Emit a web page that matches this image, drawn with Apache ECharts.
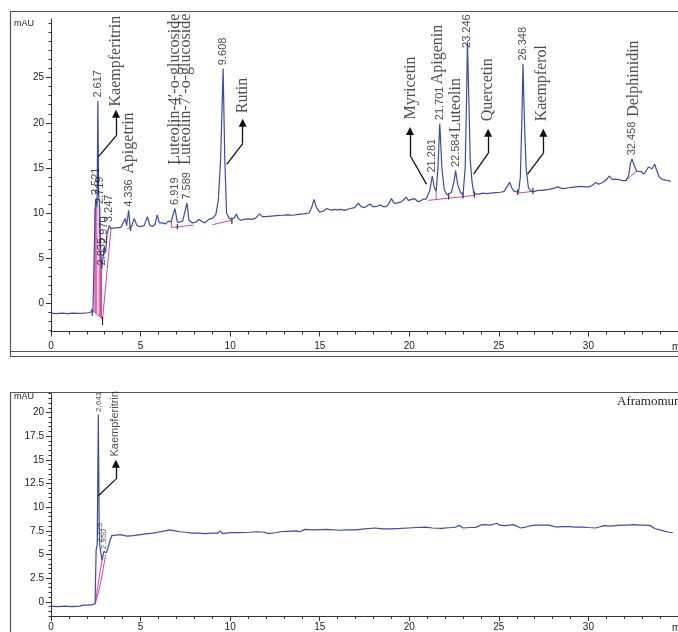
<!DOCTYPE html>
<html><head><meta charset="utf-8">
<script src="https://cdn.jsdelivr.net/npm/echarts@6/dist/echarts.min.js"></script>
<style>html,body{margin:0;padding:0;background:#fff}#c{width:678px;height:632px}</style>
</head><body><div id="c"></div>
<script>
// ---------- DATA ----------
const xMajor = [0, 5, 10, 15, 20, 25, 30];
const xMinor = [0,1,2,3,4,5,6,7,8,9,10,11,12,13,14,15,16,17,18,19,20,21,22,23,24,25,26,27,28,29,30,31,32,33,34,35];
const topYMajor = [0, 5, 10, 15, 20, 25];
const topYMinor = [-3,-2,-1,0,1,2,3,4,5,6,7,8,9,10,11,12,13,14,15,16,17,18,19,20,21,22,23,24,25,26,27,28,29,30,31];
const botYMajor = [0, 2.5, 5, 7.5, 10, 12.5, 15, 17.5, 20];
const botYMinor = [-1.5,-1,-0.5,0,0.5,1,1.5,2,2.5,3,3.5,4,4.5,5,5.5,6,6.5,7,7.5,8,8.5,9,9.5,10,10.5,11,11.5,12,12.5,13,13.5,14,14.5,15,15.5,16,16.5,17,17.5,18,18.5,19,19.5,20,20.5,21,21.5,22];

// top chromatogram (time min, mAU)
const topTrace = [
[0,-1.1],[0.3,-1.15],[0.6,-1.1],[0.9,-1.15],[1.2,-1.1],[1.5,-1.12],[1.8,-1.1],[2.1,-1.05],[2.25,-0.95],[2.3,-0.7],[2.34,-1.0],[2.43,-1.0],
[2.47,10.8],[2.52,11.6],[2.57,10.6],[2.617,22.4],[2.66,12.0],[2.719,10.6],[2.77,6.0],[2.835,3.8],[2.9,5.0],[2.97,6.2],[3.05,5.6],[3.12,7.6],[3.247,8.6],[3.35,8.3],[3.6,8.35],[3.9,8.4],
[4.14,9.4],[4.22,8.6],[4.336,10.3],[4.42,8.3],[4.52,8.6],[4.64,9.4],[4.8,8.6],[4.96,8.5],[5.2,8.6],[5.38,9.6],[5.5,8.7],[5.65,8.5],[5.8,8.7],[5.93,9.8],[6.05,8.9],[6.2,8.9],[6.4,8.8],[6.55,9.1],[6.7,9.0],
[6.919,10.5],[7.05,9.0],[7.2,9.0],[7.35,9.1],[7.589,11.1],[7.7,9.2],[7.9,8.9],[8.1,9.0],[8.25,9.3],[8.4,9.1],[8.6,8.9],[8.8,9.3],[9.0,9.4],[9.2,9.8],[9.34,11.4],[9.47,16],[9.608,26.0],[9.7,16],[9.8,10.0],[9.95,9.4],
[10.1,9.3],[10.25,9.5],[10.35,9.9],[10.45,9.4],[10.6,9.2],[10.8,9.3],[11.0,9.35],[11.2,9.3],[11.4,9.4],[11.64,9.9],[11.8,9.6],[12.0,9.6],[12.3,9.65],[12.6,9.7],[12.9,9.75],[13.2,9.8],[13.5,9.75],[13.8,9.85],[14.1,9.9],[14.4,10.0],
[14.55,10.6],[14.68,11.5],[14.82,10.6],[15.0,10.1],[15.2,10.2],[15.4,10.5],[15.5,10.7],[15.65,10.3],[15.8,10.4],[16.0,10.35],[16.15,10.4],[16.4,10.3],[16.7,10.5],[16.95,10.6],[17.16,11.1],[17.3,10.7],[17.5,10.6],[17.65,10.8],[17.8,11.0],[17.95,10.7],
[18.1,10.7],[18.25,10.8],[18.4,10.9],[18.55,10.7],[18.7,10.7],[18.85,11.0],[19.0,11.6],[19.15,11.1],[19.3,11.1],[19.5,11.2],[19.65,11.4],[19.83,11.75],[19.95,11.4],[20.06,11.4],[20.3,11.6],[20.45,11.3],[20.6,11.3],[20.8,11.55],[20.94,11.55],[21.05,11.4],
[21.15,12.5],[21.281,14.1],[21.4,12.8],[21.5,12.4],[21.6,15],[21.701,19.9],[21.82,15],[21.95,12.6],[22.1,12.0],[22.2,11.9],[22.35,12.3],[22.5,13.5],[22.584,14.7],[22.7,13.2],[22.85,12.3],[23.0,12.0],[23.12,15],[23.2,23],[23.246,29.0],[23.32,23],[23.4,16],[23.5,13.5],[23.6,12.2],
[23.75,12.1],[23.9,12.1],[24.1,12.2],[24.3,12.15],[24.55,12.2],[24.8,12.25],[25.1,12.3],[25.3,12.4],[25.45,12.9],[25.6,13.4],[25.72,12.8],[25.85,12.4],[26.1,12.3],[26.2,14],[26.28,20],[26.348,26.5],[26.43,20],[26.52,15],[26.65,12.8],[26.8,12.4],
[27.0,12.4],[27.2,12.5],[27.45,12.5],[27.7,12.6],[28.0,12.7],[28.3,12.9],[28.45,12.75],[28.6,12.7],[28.9,12.8],[29.1,12.85],[29.3,12.9],[29.6,12.95],[29.85,12.9],[30.05,12.9],[30.25,13.1],[30.4,13.4],[30.55,13.2],[30.7,13.3],[30.9,13.5],[31.05,13.8],
[31.15,14.1],[31.25,13.9],[31.35,13.7],[31.5,13.75],[31.7,13.7],[31.9,13.6],[32.1,13.6],[32.25,14.2],[32.35,15.5],[32.43,16.0],[32.55,15.3],[32.7,14.6],[32.8,14.8],[32.95,14.6],[33.08,14.3],[33.2,14.6],[33.35,15.1],[33.45,15.2],[33.55,14.9],[33.7,15.4],
[33.8,14.8],[33.93,14.1],[34.05,13.8],[34.17,13.7],[34.3,13.65],[34.45,13.6],[34.6,13.5]
];
// integration baselines (magenta), each a polyline
const topBaselines = [
[[2.38,-0.9],[2.88,-1.75]],
[[2.88,-1.75],[3.35,8.3]],
[[2.45,-1.0],[2.45,10.5]],
[[2.5,-1.1],[2.5,11.2]],
[[2.56,-1.2],[2.56,10.6]],
[[2.69,-1.4],[2.69,10.8]],
[[2.76,-1.5],[2.76,6.5]],
[[2.82,-1.6],[2.82,4.0]],
[[4.25,8.3],[4.45,8.3]],
[[6.72,9.0],[6.72,8.4],[7.95,8.65]],
[[9.0,8.7],[10.1,9.2]],
[[21.05,11.4],[23.63,11.95]],
[[21.5,11.5],[21.5,12.4]],
[[26.05,12.2],[26.9,12.4]],
[[32.1,13.6],[32.7,14.7]]
];
// black integration ticks
const topMarks = [
[[2.3,-1.4],[2.3,-0.6]],[[2.88,-2.4],[2.88,-1.5]],[[4.45,8.0],[4.45,8.6]],[[7.05,8.2],[7.05,8.8]],[[10.1,8.8],[10.1,9.5]],
[[22.2,11.5],[22.2,12.2]],[[23.0,11.6],[23.0,12.3]],[[23.63,11.7],[23.63,12.4]],[[26.05,12.0],[26.05,12.6]],[[26.9,12.1],[26.9,12.8]]
];
// retention time labels: [time, label base height]
const topPeaks = [
[2.521,11.6],[2.617,22.4],[2.719,10.6],[2.835,3.8],[2.970,6.2],[3.247,8.6],[4.336,10.3],[6.919,10.5],[7.589,11.1],[9.608,26.0],
[21.281,14.1],[21.701,19.9],[22.584,14.7],[23.246,27.9],[26.348,26.5],[32.458,16.0]
];
const topPeakText = ['2.521','2.617','2.719','2.835','2.970','3.247','4.336','6.919','7.589','9.608','21.281','21.701','22.584','23.246','26.348','32.458'];
// compound names [text, time, mAU at start of text]
const topNames = [
['Kaempferitrin',3.6,21.75],['Apigetrin',4.36,14.3],["Luteolin-4\u02b9-o-glucoside",6.9,15.3],["Luteolin-7\u02b9-o-glucoside",7.55,15.3],['Rutin',10.7,21.0],
['Myricetin',20.1,20.3],['Apigenin',21.6,24.2],['Luteolin',22.6,18.9],['Quercetin',24.38,20.1],['Kaempferol',27.42,20.1],['Delphinidin',32.53,20.6]
];
// arrows: leader segment then arrow segment
const topArrowLeads = [
[[2.65,16.25],[3.63,18.55]],[[9.81,15.4],[10.7,17.7]],[[20.96,13.2],[20.04,16.4]],[[23.59,14.3],[24.4,16.6]],[[26.6,14.3],[27.48,16.6]]
];
const topArrowHeads = [
[[3.63,18.55],[3.63,21.0]],[[10.7,17.7],[10.7,20.0]],[[20.04,16.4],[20.04,19.1]],[[24.4,16.6],[24.4,18.9]],[[27.48,16.6],[27.48,18.9]]
];

// bottom chromatogram
const botTrace = [
[0,-0.45],[0.4,-0.5],[0.8,-0.45],[1.2,-0.5],[1.6,-0.45],[1.8,-0.35],[2.1,-0.35],[2.33,-0.3],[2.46,-0.2],
[2.52,5.5],[2.58,6.0],[2.641,19.8],[2.69,8],[2.725,6.0],[2.78,5.2],[2.85,4.4],[2.950,5.3],[3.1,5.2],[3.2,5.4],[3.3,6.5],[3.4,7.0],[3.6,7.05],[3.87,7.1],[4.2,6.95],[4.6,7.0],[5.0,7.1],[5.4,7.2],[5.7,7.25],[5.95,7.35],[6.2,7.45],[6.37,7.5],[6.6,7.6],[6.93,7.5],
[7.2,7.4],[7.5,7.35],[7.86,7.25],[8.2,7.25],[8.6,7.2],[9.0,7.25],[9.3,7.25],[9.45,7.5],[9.58,7.2],[10.0,7.3],[10.5,7.3],[11.1,7.35],[11.5,7.4],[11.9,7.35],[12.15,7.2],[12.5,7.3],[12.8,7.4],[13.2,7.45],[13.7,7.5],[13.9,7.4],[14.17,7.65],[14.5,7.6],[14.8,7.6],
[15.36,7.65],[16.1,7.56],[16.5,7.6],[17.0,7.6],[17.5,7.7],[18.1,7.8],[18.5,7.7],[19.0,7.7],[19.5,7.75],[19.95,7.8],[20.4,7.85],[20.9,7.9],[21.3,7.8],[21.8,7.75],[22.35,7.85],[22.6,7.9],[22.8,8.08],[23.0,7.8],[23.4,7.85],[23.7,7.87],[24.0,8.1],[24.17,8.15],
[24.5,8.1],[24.7,8.2],[24.87,8.3],[25.05,8.1],[25.3,8.05],[25.6,8.1],[25.8,8.15],[26.0,8.0],[26.2,7.8],[26.5,7.9],[26.8,8.05],[27.1,8.1],[27.5,8.1],[27.8,8.1],[28.0,8.0],[28.2,7.9],[28.5,7.95],[28.9,7.95],[29.3,7.9],[29.7,7.9],[30.0,7.85],[30.4,7.8],
[30.6,7.9],[30.85,8.05],[31.2,8.0],[31.5,8.05],[31.85,8.1],[32.2,8.1],[32.5,8.15],[32.9,8.1],[33.2,8.1],[33.45,8.05],[33.7,7.75],[34.1,7.55],[34.5,7.35],[34.7,7.3]
];
const botBaselines = [
[[2.47,-0.2],[2.6,1.5],[2.75,3.3],[2.86,4.5]],
[[2.47,-0.2],[2.65,1.0],[2.85,2.8],[3.05,5.0]]
];
const botPeaks = [[2.641,19.8],[2.725,6.0],[2.950,5.3]];
const botPeakText = ['2.641','2.725','2.950'];
const botNames = [['Kaempferitrin',3.55,15.3]];
const botArrowLeads = [[[2.64,11.2],[3.62,12.96]]];
const botArrowHeads = [[[3.62,12.96],[3.62,14.6]]];

// ---------- STYLE ----------
const BLUE = '#3d4ba6', PINK = '#d6469c', INK = '#222', AX = '#333';
const SANS = 'Liberation Sans', SERIF = 'Liberation Serif';

function joinSegs(segs){ const out=[]; segs.forEach((s,i)=>{ if(i) out.push('-'); s.forEach(p=>out.push(p)); }); return out; }
function xAxes(grid, margin){
  return [
    {gridIndex:grid,type:'value',min:0,max:35,position:'bottom',
     axisLine:{show:true,onZero:false,lineStyle:{color:AX,width:1}},
     axisTick:{show:true,customValues:xMajor,length:5,lineStyle:{color:AX}},
     axisLabel:{show:true,customValues:xMajor,margin:margin,fontSize:10,color:INK,fontFamily:SANS},
     splitLine:{show:false}},
    {gridIndex:grid,type:'value',min:0,max:35,position:'bottom',
     axisLine:{show:false,onZero:false},
     axisTick:{show:true,customValues:xMinor,length:3,lineStyle:{color:AX}},
     axisLabel:{show:false},splitLine:{show:false}}
  ];
}
function yAxes(grid,min,max,major,minor){
  return [
    {gridIndex:grid,type:'value',min:min,max:max,position:'left',
     axisLine:{show:true,onZero:false,lineStyle:{color:AX,width:1}},
     axisTick:{show:true,customValues:major,length:5,lineStyle:{color:AX}},
     axisLabel:{show:true,customValues:major,margin:7,fontSize:10,color:INK,fontFamily:SANS},
     splitLine:{show:false}},
    {gridIndex:grid,type:'value',min:min,max:max,position:'left',
     axisLine:{show:false,onZero:false},
     axisTick:{show:true,customValues:minor,length:2.5,lineStyle:{color:AX}},
     axisLabel:{show:false},splitLine:{show:false}}
  ];
}
function labelSeries(xi,yi,pts,texts,font,size,dist){
  return {type:'scatter',xAxisIndex:xi,yAxisIndex:yi,symbolSize:1,itemStyle:{color:'rgba(0,0,0,0)'},silent:true,z:6,
    data:pts.map((p,i)=>({value:p,name:texts[i]})),
    label:{show:true,formatter:'{b}',position:'top',distance:dist,rotate:90,align:'left',verticalAlign:'middle',
      fontSize:size,fontFamily:font,color:INK}};
}
function lineSeries(xi,yi,data,color,w,z){
  return {type:'line',xAxisIndex:xi,yAxisIndex:yi,data:data,showSymbol:false,symbol:'none',connectNulls:false,
    lineStyle:{color:color,width:w},z:z,silent:true};
}
function arrowSeries(xi,yi,segs,head){
  return {type:'lines',coordinateSystem:'cartesian2d',xAxisIndex:xi,yAxisIndex:yi,silent:true,z:5,
    symbol: head?['none','triangle']:['none','none'], symbolSize: head?8:0,
    lineStyle:{color:'#111',width:1.3,opacity:1,curveness:0},
    data:segs.map(s=>({coords:s}))};
}

const chart = echarts.init(document.getElementById('c'), null, {renderer:'canvas'});
chart.setOption({
  animation:false,
  backgroundColor:'#fff',
  grid:[
    {left:51,top:19,width:635.6,height:312.5,containLabel:false},
    {left:51,top:393.6,width:635.6,height:224.7,containLabel:false}
  ],
  xAxis:[...xAxes(0,10),...xAxes(1,6)],
  yAxis:[...yAxes(0,-3.13,31.5,topYMajor,topYMinor),...yAxes(1,-1.5,22,botYMajor,botYMinor)],
  series:[
    lineSeries(0,0,joinSegs(topBaselines),PINK,1,2),
    lineSeries(0,0,joinSegs(topMarks),'#111',1,2),
    lineSeries(0,0,topTrace,BLUE,1.2,3),
    labelSeries(0,0,topPeaks,topPeakText,SANS,11,3),
    labelSeries(0,0,topNames.map(n=>[n[1],n[2]]),topNames.map(n=>n[0]),SERIF,16,0),
    arrowSeries(0,0,topArrowLeads,false),
    arrowSeries(0,0,topArrowHeads,true),
    lineSeries(2,2,joinSegs(botBaselines),PINK,1,2),
    lineSeries(2,2,botTrace,BLUE,1.2,3),
    labelSeries(2,2,botPeaks,botPeakText,SANS,8,2),
    labelSeries(2,2,botNames.map(n=>[n[1],n[2]]),botNames.map(n=>n[0]),SANS,11,0),
    arrowSeries(2,2,botArrowLeads,false),
    arrowSeries(2,2,botArrowHeads,true)
  ],
  graphic:[
    {type:'rect',shape:{x:10.5,y:11.5,width:700,height:340},style:{fill:'none',stroke:'#555',lineWidth:1.2},silent:true},
    {type:'line',shape:{x1:10.5,y1:356.5,x2:700,y2:356.5},style:{stroke:'#555',lineWidth:1.2},silent:true},
    {type:'line',shape:{x1:10.5,y1:351.5,x2:10.5,y2:357},style:{stroke:'#555',lineWidth:1.2},silent:true},
    {type:'polyline',shape:{points:[[10.5,640],[10.5,392.5],[700,392.5]]},style:{fill:'none',stroke:'#555',lineWidth:1.2},silent:true},
    {type:'text',x:14,y:24,style:{text:'mAU',font:'9px "Liberation Sans"',fill:INK,align:'left',verticalAlign:'middle'},silent:true},
    {type:'text',x:14,y:396.5,style:{text:'mAU',font:'9px "Liberation Sans"',fill:INK,align:'left',verticalAlign:'middle'},silent:true},
    {type:'text',x:672,y:347,style:{text:'min',font:'10px "Liberation Sans"',fill:INK,align:'left',verticalAlign:'middle'},silent:true},
    {type:'text',x:672,y:628.5,style:{text:'min',font:'10px "Liberation Sans"',fill:INK,align:'left',verticalAlign:'middle'},silent:true},
    {type:'text',x:617,y:402,style:{text:'Aframomum',font:'13px "Liberation Serif"',fill:INK,align:'left',verticalAlign:'middle'},silent:true}
  ]
});
</script>
</body></html>
